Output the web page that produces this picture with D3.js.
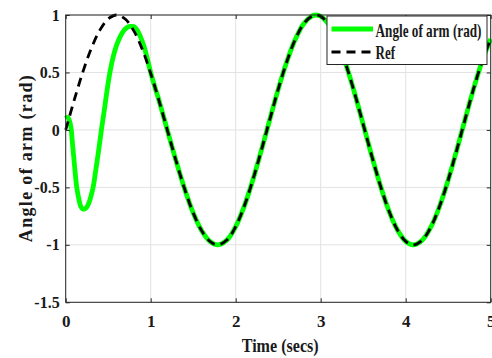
<!DOCTYPE html>
<html><head><meta charset="utf-8">
<script src="https://cdn.jsdelivr.net/npm/d3@7"></script>
<style>body{margin:0;background:#fff;} svg{display:block;}</style>
</head><body>
<svg id="chart" width="492" height="358"></svg>
<script>
const xTicks = [0, 1, 2, 3, 4, 5];
const yTicks = [-1.5, -1, -0.5, 0, 0.5, 1];
const yTickLabels = ["-1.5", "-1", "-0.5", "0", "0.5", "1"];
const seriesNames = ["Angle of arm (rad)", "Ref"];
const xLabel = "Time (secs)";
const yLabel = "Angle of arm (rad)";

const refTime = [0,0.1,0.2,0.3,0.4,0.5,0.6,0.7,0.8,0.9,1.0,1.1,1.2,1.3,1.4,1.5,1.6,1.7,1.79,1.9,2.0,2.1,2.2,2.3,2.4,2.5,2.6,2.7,2.8,2.9,2.945,3.0,3.1,3.2,3.3,3.4,3.5,3.6,3.7,3.8,3.9,4.0,4.09,4.2,4.3,4.4,4.5,4.6,4.7,4.8,4.9,5.0];
const refAngle = [0,0.259,0.500,0.707,0.866,0.966,1.0,0.965,0.864,0.703,0.492,0.248,-0.013,-0.274,-0.515,-0.722,-0.877,-0.972,-1.0,-0.956,-0.841,-0.665,-0.440,-0.183,0.088,0.353,0.591,0.786,0.924,0.992,1.0,0.989,0.911,0.765,0.562,0.317,0.048,-0.224,-0.480,-0.700,-0.867,-0.970,-1.0,-0.955,-0.840,-0.662,-0.436,-0.177,0.095,0.361,0.599,0.792];

const armTime = [0,0.02,0.04,0.06,0.08,0.10,0.13,0.16,0.18,0.21,0.24,0.27,0.30,0.325,0.35,0.38,0.42,0.45,0.48,0.52,0.56,0.60,0.64,0.68,0.72,0.76,0.80,0.84,0.88,0.92,0.96,1.00,1.05,1.10,1.2,1.3,1.4,1.5,1.6,1.7,1.79,1.9,2.0,2.1,2.2,2.3,2.4,2.5,2.6,2.7,2.8,2.9,2.945,3.0,3.1,3.2,3.3,3.4,3.5,3.6,3.7,3.8,3.9,4.0,4.09,4.2,4.3,4.4,4.5,4.6,4.7,4.8,4.9,5.0];
const armAngle = [0.10,0.11,0.09,0.03,-0.12,-0.28,-0.50,-0.62,-0.67,-0.69,-0.68,-0.64,-0.57,-0.49,-0.37,-0.22,0.0,0.15,0.31,0.50,0.64,0.74,0.81,0.86,0.89,0.90,0.90,0.87,0.81,0.73,0.62,0.50,0.37,0.25,-0.013,-0.274,-0.515,-0.722,-0.877,-0.972,-1.0,-0.956,-0.841,-0.665,-0.440,-0.183,0.088,0.353,0.591,0.786,0.924,0.992,1.0,0.989,0.911,0.765,0.562,0.317,0.048,-0.224,-0.480,-0.700,-0.867,-0.970,-1.0,-0.955,-0.840,-0.662,-0.436,-0.177,0.095,0.361,0.599,0.792];

const FONT = "'Liberation Serif','Times New Roman',serif";
const AX = "#262626";
const svg = d3.select("#chart");
const M = {left: 65.7, right: 490.7, top: 15, bottom: 302.3};
const x = d3.scaleLinear().domain([0, 5]).range([M.left, M.right]);
const y = d3.scaleLinear().domain([-1.5, 1]).range([M.bottom, M.top]);

// grid
const grid = svg.append("g");
grid.selectAll("line.gx").data(xTicks).join("line")
  .attr("x1", d => x(d)).attr("x2", d => x(d)).attr("y1", M.top).attr("y2", M.bottom)
  .attr("stroke", "#e2e2e2").attr("stroke-width", 1);
grid.selectAll("line.gy").data(yTicks).join("line")
  .attr("y1", d => y(d)).attr("y2", d => y(d)).attr("x1", M.left).attr("x2", M.right)
  .attr("stroke", "#e2e2e2").attr("stroke-width", 1);

// lines
const armPts = armTime.map((t, i) => [t, armAngle[i]]);
const refPts = refTime.map((t, i) => [t, refAngle[i]]);
const line = d3.line().x(d => x(d[0])).y(d => y(d[1])).curve(d3.curveCatmullRom.alpha(0.5));
svg.append("path").attr("d", line(armPts)).attr("fill", "none")
  .attr("stroke", "#00ff00").attr("stroke-width", 4.8).attr("stroke-linejoin", "round");
svg.append("path").attr("d", line(refPts)).attr("fill", "none")
  .attr("stroke", "#000").attr("stroke-width", 2.8).attr("stroke-dasharray", "9,6");

// axes
function styleAxis(g, size) {
  g.select(".domain").remove();
  g.selectAll(".tick line").attr("stroke", AX).attr("stroke-width", 1);
  g.selectAll(".tick text").attr("font-family", FONT).attr("font-weight", "bold")
    .attr("font-size", size).attr("fill", "#1a1a1a");
}
svg.append("g").attr("transform", `translate(0,${M.bottom})`)
  .call(d3.axisBottom(x).tickValues(xTicks).tickFormat(d3.format("d")).tickSizeInner(-4).tickSizeOuter(0).tickPadding(13))
  .call(g => styleAxis(g, 17));
svg.append("g").attr("transform", `translate(0,${M.top})`)
  .call(d3.axisTop(x).tickValues(xTicks).tickFormat("").tickSizeInner(-4).tickSizeOuter(0))
  .call(g => styleAxis(g, 16));
svg.append("g").attr("transform", `translate(${M.left},0)`)
  .call(d3.axisLeft(y).tickValues(yTicks).tickFormat((d, i) => yTickLabels[i]).tickSizeInner(-4).tickSizeOuter(0).tickPadding(6))
  .call(g => styleAxis(g, 16));
svg.append("g").attr("transform", `translate(${M.right},0)`)
  .call(d3.axisRight(y).tickValues(yTicks).tickFormat("").tickSizeInner(-4).tickSizeOuter(0))
  .call(g => styleAxis(g, 16));
svg.append("rect").attr("x", M.left).attr("y", M.top)
  .attr("width", M.right - M.left).attr("height", M.bottom - M.top)
  .attr("fill", "none").attr("stroke", AX).attr("stroke-width", 1);

// axis labels
svg.append("text").attr("x", (M.left + M.right) / 2 + 2).attr("y", 351.5)
  .attr("text-anchor", "middle").attr("font-family", FONT).attr("font-weight", "bold")
  .attr("font-size", 18.5).attr("fill", "#1a1a1a")
  .attr("textLength", 77).attr("lengthAdjust", "spacingAndGlyphs").text(xLabel);
svg.append("text").attr("transform", `translate(32,${(M.top + M.bottom) / 2}) rotate(-90)`)
  .attr("text-anchor", "middle").attr("font-family", FONT).attr("font-weight", "bold")
  .attr("font-size", 18).attr("fill", "#1a1a1a")
  .attr("textLength", 167).attr("lengthAdjust", "spacing").text(yLabel);

// legend
const L = {x: 327, y: 16, w: 160, h: 48.5};
const lg = svg.append("g");
lg.append("rect").attr("x", L.x).attr("y", L.y).attr("width", L.w).attr("height", L.h)
  .attr("fill", "#fff").attr("stroke", AX).attr("stroke-width", 1);
const legendRows = [
  {name: seriesNames[0], ly: 29, ty: 36.5, tl: 106, color: "#00ff00", w: 4.8, dash: null},
  {name: seriesNames[1], ly: 52, ty: 58.5, tl: 19.5, color: "#000", w: 2.8, dash: "9,6"}
];
legendRows.forEach(r => {
  const ln = lg.append("line").attr("x1", 331.5).attr("x2", 373).attr("y1", r.ly).attr("y2", r.ly)
    .attr("stroke", r.color).attr("stroke-width", r.w);
  if (r.dash) ln.attr("stroke-dasharray", r.dash);
  lg.append("text").attr("x", 375.5).attr("y", r.ty).attr("font-family", FONT)
    .attr("font-weight", "bold").attr("font-size", 19).attr("fill", "#1a1a1a")
    .attr("textLength", r.tl).attr("lengthAdjust", "spacingAndGlyphs").text(r.name);
});
</script>
</body></html>
